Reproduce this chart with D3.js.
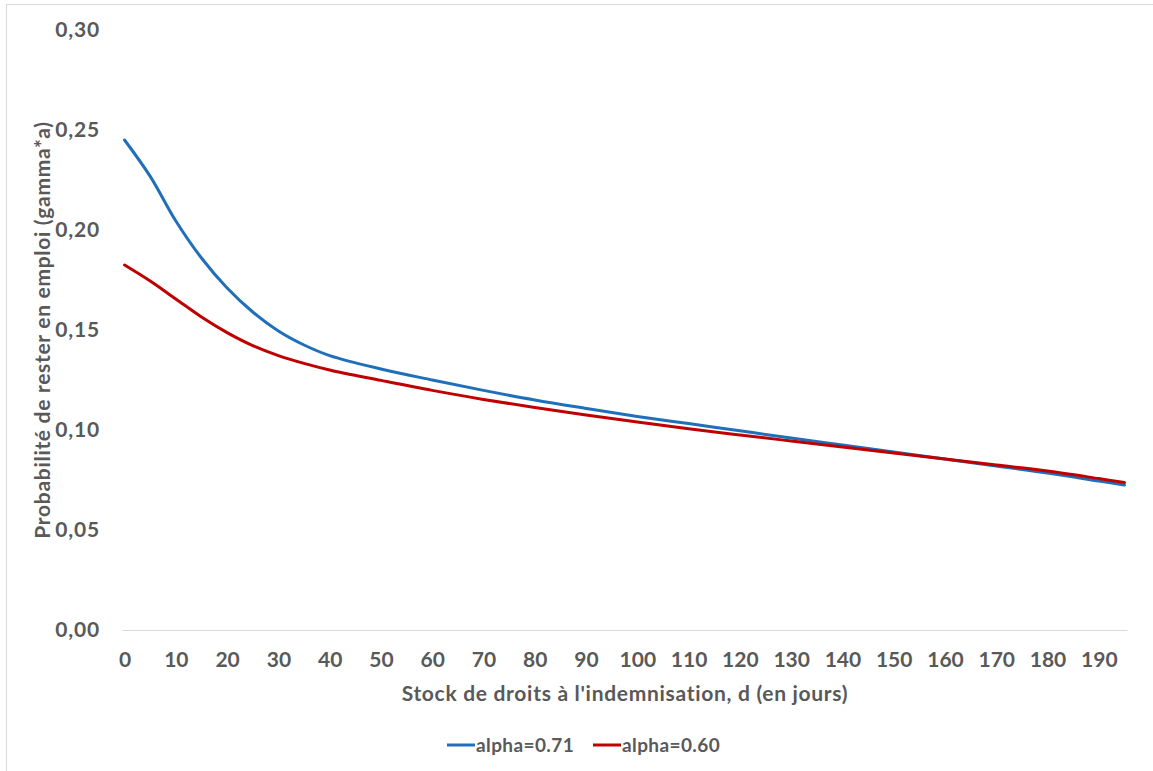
<!DOCTYPE html>
<html>
<head>
<meta charset="utf-8">
<script src="https://cdn.jsdelivr.net/npm/d3@7"></script>
<style>
  html, body { margin: 0; padding: 0; background: #fff; }
  svg { display: block; }
  text { font-family: Lato, "Open Sans", sans-serif; font-weight: 700; fill: #595959; }
</style>
</head>
<body>
<svg id="chart" width="1153" height="771"></svg>
<script>
// ---- data ----
const days = [0, 5, 10, 15, 20, 25, 30, 35, 40, 50, 60, 70, 80, 90, 100, 110, 120, 130, 140, 150, 160, 170, 180, 190, 195];
const alpha071 = [0.2450, 0.2268, 0.2045, 0.1860, 0.1710, 0.1590, 0.1495, 0.1425, 0.1372, 0.1305, 0.1250, 0.1198, 0.1150, 0.1108, 0.1068, 0.1032, 0.0996, 0.0960, 0.0925, 0.0890, 0.0855, 0.0820, 0.0785, 0.0745, 0.0725];
const alpha060 = [0.1825, 0.1745, 0.1655, 0.1565, 0.1487, 0.1422, 0.1372, 0.1333, 0.1300, 0.1248, 0.1198, 0.1153, 0.1112, 0.1075, 0.1040, 0.1006, 0.0975, 0.0945, 0.0915, 0.0885, 0.0855, 0.0825, 0.0795, 0.0757, 0.0737];
const seriesNames = ["alpha=0.71", "alpha=0.60"];
const seriesColors = ["#1F6FBA", "#C00000"];
const xTickValues = [0, 10, 20, 30, 40, 50, 60, 70, 80, 90, 100, 110, 120, 130, 140, 150, 160, 170, 180, 190];
const yTickValues = [0, 0.05, 0.10, 0.15, 0.20, 0.25, 0.30];
const xTitle = "Stock de droits à l'indemnisation, d (en jours)";
const yTitle = "Probabilité de rester en emploi (gamma*a)";

// ---- layout ----
const svg = d3.select("#chart");
const plot = { left: 122, right: 1127, top: 30, bottom: 630 };

// outer frame
svg.append("rect").attr("x", 6.5).attr("y", 4.5).attr("width", 1160).attr("height", 800)
  .attr("fill", "none").attr("stroke", "#d9d9d9").attr("stroke-width", 1);

const x = d3.scaleLinear().domain([-0.5, 195.5]).range([plot.left, plot.right]);
const y = d3.scaleLinear().domain([0, 0.30]).range([plot.bottom, plot.top]);

// x axis
const xAxis = d3.axisBottom(x).tickValues(xTickValues).tickSize(0).tickPadding(22).tickFormat(d3.format("d"));
const gx = svg.append("g").attr("transform", `translate(0,${plot.bottom})`).call(xAxis);
gx.select(".domain").attr("stroke", "#d9d9d9").attr("stroke-width", 1.2);
gx.selectAll("text").attr("font-size", 21).style("fill", "#595959").style("font-family", "Lato, sans-serif");

// y axis
const fmt = v => d3.format(".2f")(v).replace(".", ",");
const yAxis = d3.axisLeft(y).tickValues(yTickValues).tickSize(0).tickPadding(22).tickFormat(fmt);
const gy = svg.append("g").attr("transform", `translate(${plot.left},0)`).call(yAxis);
gy.select(".domain").remove();
gy.selectAll("text").attr("font-size", 21).attr("letter-spacing", 0.8).style("fill", "#595959").style("font-family", "Lato, sans-serif");

// titles
svg.append("text").attr("x", 625).attr("y", 701).attr("text-anchor", "middle")
  .attr("font-size", 21).attr("letter-spacing", 0.7).text(xTitle);
svg.append("text").attr("transform", "translate(50,330) rotate(-90)").attr("text-anchor", "middle")
  .attr("font-size", 21).attr("letter-spacing", 0.7).text(yTitle);

// lines
const line = d3.line().x(d => x(d[0])).y(d => y(d[1])).curve(d3.curveCatmullRom.alpha(0.5));
const allSeries = [alpha071, alpha060];
allSeries.forEach((vals, i) => {
  svg.append("path")
    .datum(days.map((d, k) => [d, vals[k]]))
    .attr("fill", "none")
    .attr("stroke", seriesColors[i])
    .attr("stroke-width", 3)
    .attr("stroke-linecap", "round")
    .attr("d", line);
});

// legend
const legendItems = [{ x: 447 }, { x: 593 }];
legendItems.forEach((it, i) => {
  const g = svg.append("g").attr("transform", `translate(${it.x},745)`);
  g.append("line").attr("x1", 0).attr("x2", 28).attr("y1", 0).attr("y2", 0)
    .attr("stroke", seriesColors[i]).attr("stroke-width", 3);
  g.append("text").attr("x", 29).attr("y", 7).attr("font-size", 19).attr("letter-spacing", 0.4).text(seriesNames[i]);
});
</script>
</body>
</html>
